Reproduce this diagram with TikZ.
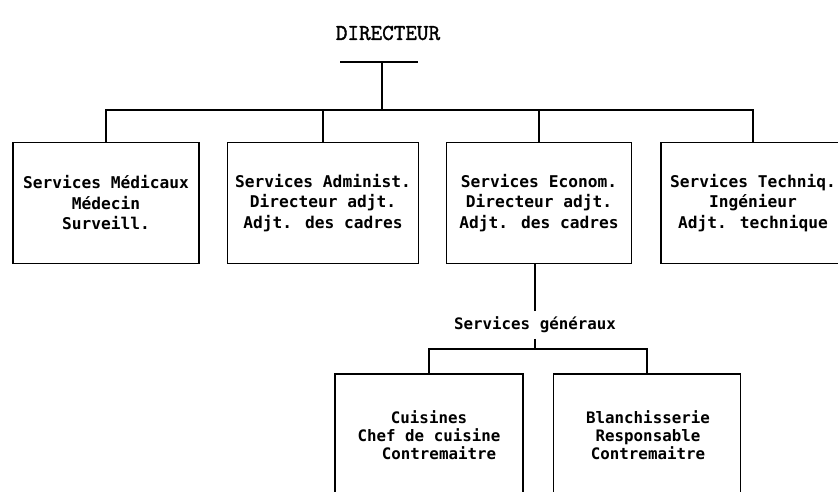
\documentclass[tikz,border=0pt]{standalone}
\usepackage{fontspec}
\newfontfamily\boxfont{DejaVu Sans Mono}
\newfontfamily\headfont[FakeBold=1.6]{Latin Modern Mono}
\begin{document}
\begin{tikzpicture}[x=1bp,y=-1bp, line width=1.8bp,
  unit/.style={draw, rectangle, inner sep=0pt,
    font=\boxfont\bfseries\fontsize{16.2bp}{20.5bp}\selectfont, align=center},
  shell/.style={draw, rectangle, inner sep=0pt},
  txt/.style={inner sep=0pt, font=\boxfont\bfseries\fontsize{15.8bp}{18bp}\selectfont, align=center}]
\clip (0,0) rectangle (838,492);
\fill[white] (0,0) rectangle (838,492);

% head of the chart
\node[inner sep=0pt, font=\headfont\fontsize{22.5bp}{24bp}\selectfont] (dir) at (388,33) {DIRECTEUR};
\coordinate (tl) at (340,62);
\coordinate (tr) at (418,62);
\coordinate (tb) at (382,62);
\coordinate (bus) at (382,110);
\draw[line width=2.6bp] (tl) -- (tr);
\draw (tb) -- (bus);

% first level services
\node[unit, minimum width=186bp, minimum height=121bp] (med) at (106,203)
  {Services Médicaux\\Médecin\\Surveill.};
\node[unit, minimum width=191bp, minimum height=121bp] (adm) at (323,203)
  {Services Administ.\\Directeur adjt.\\Adjt. des cadres};
\node[unit, minimum width=185bp, minimum height=121bp] (eco) at (539,203)
  {Services Econom.\\Directeur adjt.\\Adjt. des cadres};
\node[unit, minimum width=184bp, minimum height=121bp] (tech) at (753,203)
  {Services Techniq.\\Ingénieur\\Adjt. technique};

\foreach \n in {med,adm,eco,tech} \draw (\n.north) |- (bus);

% general services
\node[inner sep=0pt, minimum height=26bp, font=\boxfont\bfseries\fontsize{15.8bp}{18bp}\selectfont] (gen) at (535,325) {Services généraux};
\draw (gen.north) -- (gen.north |- eco.south);
\coordinate (sbus) at (535,349);
\draw (gen.south) -- (sbus);

\node[shell, minimum width=188bp, minimum height=146bp] (cuis) at (429,447) {};
\node[shell, minimum width=187bp, minimum height=146bp] (blan) at (647,447) {};
\draw (cuis.north) |- (sbus);
\draw (blan.north) |- (sbus);

\node[txt] (cuist) at (429,435) {Cuisines\\Chef de cuisine\\\hspace*{20bp}Contremaitre};
\node[txt] (blant) at (648,435) {Blanchisserie\\Responsable\\Contremaitre};
\end{tikzpicture}
\end{document}
